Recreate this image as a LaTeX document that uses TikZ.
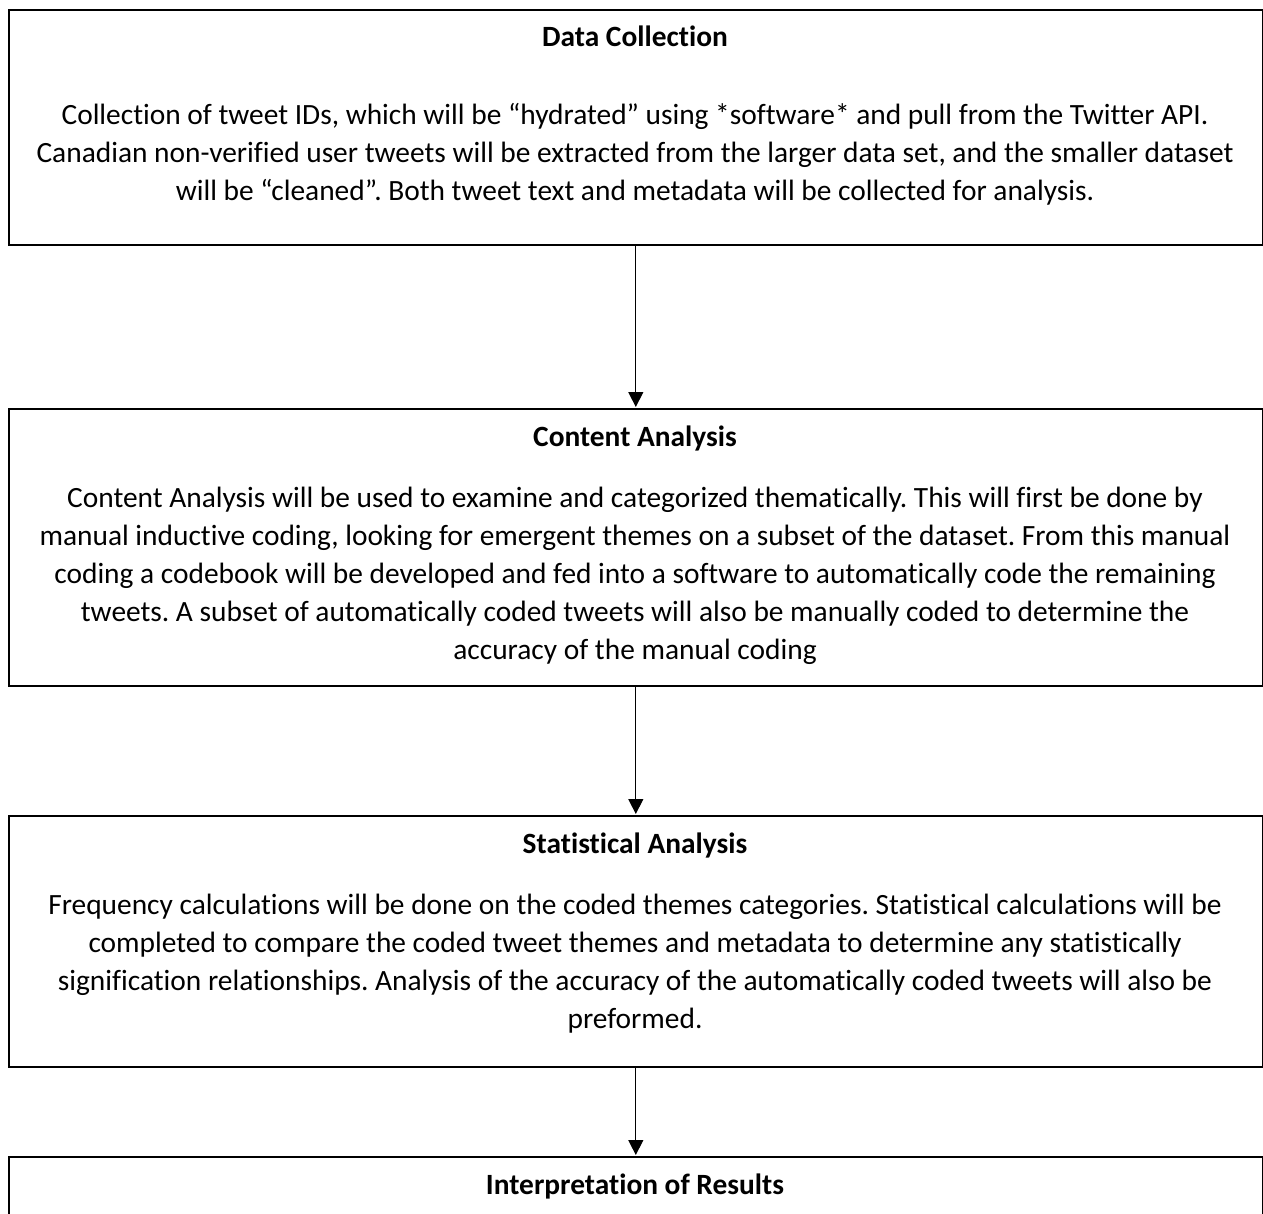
\documentclass[tikz,border=0pt]{standalone}
\usepackage{fontspec}
\setmainfont{Carlito}[Ligatures={NoCommon}]
\usetikzlibrary{arrows.meta}
\frenchspacing
\begin{document}
\begin{tikzpicture}[x=1pt,y=-1pt,
  box/.style={draw=black, line width=1.6pt, rectangle, minimum width=1254pt, anchor=north west, inner sep=0pt},
  ttl/.style={anchor=base, font=\fontsize{29.4}{35}\selectfont\bfseries, inner sep=0pt},
  txt/.style={anchor=base, font=\fontsize{29.4}{35}\selectfont, inner sep=0pt},
  conn/.style={draw=black, line width=1.1pt, -{Triangle[length=15pt,width=15pt]}, shorten >=1pt}]
\useasboundingbox (0,0) rectangle (1263,1214);
\clip (0,0) rectangle (1263,1214);
% boxes
\node[box, minimum height=235pt] (b1) at (8,9) {};
\node[box, minimum height=277pt] (b2) at (8,408) {};
\node[box, minimum height=251pt] (b3) at (8,815) {};
\node[box, minimum height=120pt] (b4) at (8,1156) {};
% box 1
\node[ttl] (t1) at (635,47) {Data Collection};
\node[txt] (l11) at (635,125) {Collection of tweet IDs, which will be “hydrated” using *software* and pull from the Twitter API.};
\node[txt] (l12) at (635,163) {Canadian non-verified user tweets will be extracted from the larger data set, and the smaller dataset};
\node[txt] (l13) at (635,201) {will be “cleaned”. Both tweet text and metadata will be collected for analysis.};
% box 2
\node[ttl] (t2) at (635,446) {Content Analysis};
\node[txt] (l21) at (635,507) {Content Analysis will be used to examine and categorized thematically. This will first be done by};
\node[txt] (l22) at (635,545) {manual inductive coding, looking for emergent themes on a subset of the dataset. From this manual};
\node[txt] (l23) at (635,583) {coding a codebook will be developed and fed into a software to automatically code the remaining};
\node[txt] (l24) at (635,621) {tweets. A subset of automatically coded tweets will also be manually coded to determine the};
\node[txt] (l25) at (635,659) {accuracy of the manual coding};
% box 3
\node[ttl] (t3) at (635,853) {Statistical Analysis};
\node[txt] (l31) at (635,914) {Frequency calculations will be done on the coded themes categories. Statistical calculations will be};
\node[txt] (l32) at (635,952) {completed to compare the coded tweet themes and metadata to determine any statistically};
\node[txt] (l33) at (635,990) {signification relationships. Analysis of the accuracy of the automatically coded tweets will also be};
\node[txt] (l34) at (635,1028) {preformed.};
% box 4
\node[ttl] (t4) at (635,1194) {Interpretation of Results};
% connectors
\draw[conn] (b1.south) -- (b2.north);
\draw[conn] (b2.south) -- (b3.north);
\draw[conn] (b3.south) -- (b4.north);
\end{tikzpicture}
\end{document}
